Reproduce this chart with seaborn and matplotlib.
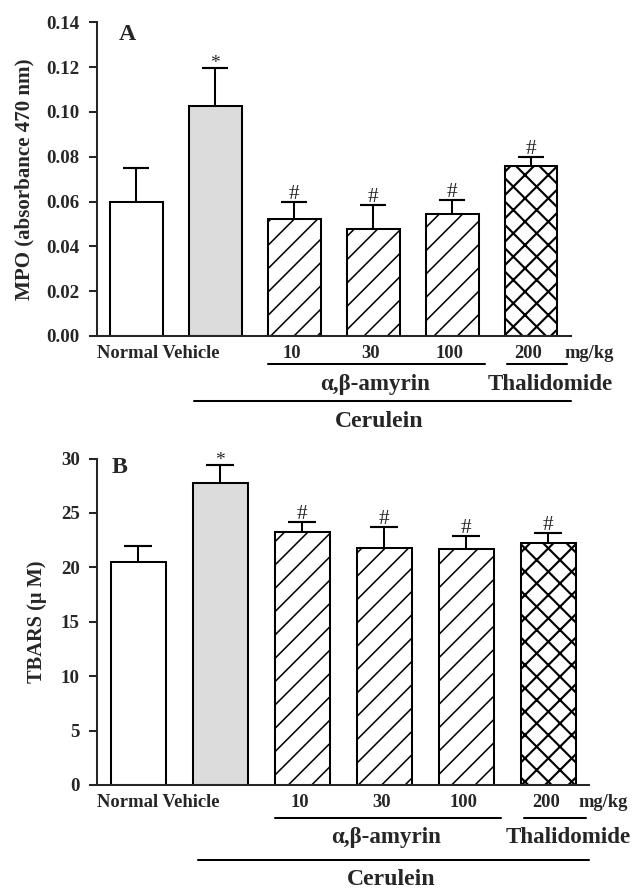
import numpy as np
import seaborn as sns
import matplotlib.pyplot as plt
import matplotlib.transforms as mtransforms

sns.set_style("ticks")
plt.rcParams["font.family"] = ["Liberation Serif", "DejaVu Serif"]
plt.rcParams["font.weight"] = "bold"
plt.rcParams["hatch.linewidth"] = 0.8

DPI = 140

## data
groups = ["Normal", "Vehicle", "10", "30", "100", "200"]
dose_labels = ["10", "30", "100", "200"]

mpo_mean = [0.0600, 0.1025, 0.0524, 0.0477, 0.0544, 0.0759]
mpo_sem = [0.0151, 0.0171, 0.0073, 0.0107, 0.0063, 0.0041]

tbars_mean = [20.53, 27.74, 23.25, 21.78, 21.69, 22.24]
tbars_sem = [1.47, 1.65, 0.92, 1.96, 1.19, 0.92]

sig_marks = ["", "*", "#", "#", "#", "#"]

mpo_ticks = [0.00, 0.02, 0.04, 0.06, 0.08, 0.10, 0.12, 0.14]
tbars_ticks = [0, 5, 10, 15, 20, 25, 30]

fills = ["white", "#dcdcdc", "white", "white", "white", "white"]
hatches = ["", "", "//", "//", "//", "xx"]

fig = plt.figure(figsize=(632 / DPI, 891 / DPI), dpi=DPI)
ax_a = fig.add_axes([0.1530, 0.6229, 0.7497, 0.3521])
ax_b = fig.add_axes([0.1540, 0.1190, 0.7783, 0.3664])


def below(ax, dy):
    # x in data units, y = axis bottom minus dy pixels
    base = mtransforms.blended_transform_factory(ax.transData, ax.transAxes)
    return mtransforms.offset_copy(base, fig=fig, x=0, y=-dy, units="dots")


def draw_panel(ax, mean, sem, ticks, fmt, ylabel, letter, letter_pos, label_x,
               capsize, lay):
    sns.barplot(x=groups, y=mean, hue=groups, palette=dict(zip(groups, fills)),
                legend=False, width=0.67, edgecolor="black", linewidth=1.05,
                errorbar=None, ax=ax)
    bars = sorted(ax.patches, key=lambda p: p.get_x())
    for p, h in zip(bars, hatches):
        p.set_hatch(h)
        p.set_edgecolor("black")
        if h == "xx" and hasattr(p, "set_hatch_linewidth"):
            p.set_hatch_linewidth(1.1)

    x = np.arange(len(groups))
    eb = ax.errorbar(x, mean, yerr=[np.zeros(len(mean)), sem], fmt="none",
                     ecolor="black", elinewidth=1.05, capsize=capsize,
                     capthick=1.1, zorder=3)
    eb.lines[1][0].set_visible(False)

    for xi, m, s, mk in zip(x, mean, sem, sig_marks):
        if mk:
            off = 3 if mk == "#" else 0
            ax.annotate(mk, xy=(xi, m + s), xytext=(0, off),
                        textcoords="offset pixels", ha="center", va="baseline",
                        fontsize=11 if mk == "#" else 10, fontweight="normal")

    ax.set_xlim(-0.5, 5.5)
    ax.set_ylim(ticks[0], ticks[-1])
    ax.set_yticks(ticks)
    ax.set_yticklabels([fmt.format(t) for t in ticks])
    ax.set_xticks([])
    ax.set_xlabel("")
    sns.despine(ax=ax)
    for side in ["left", "bottom"]:
        ax.spines[side].set_linewidth(1.05)
    ax.tick_params(axis="y", direction="out", length=4.3, width=1.05, pad=4.8,
                   labelsize=9.7)
    ax.set_ylabel(ylabel, fontsize=lay["ylab"], fontweight="bold", va="center")
    ax.yaxis.set_label_coords(label_x, 0.5)
    ax.text(letter_pos[0], letter_pos[1], letter, transform=ax.transAxes,
            fontsize=12.3, fontweight="bold", ha="left", va="baseline")

    # group annotations under the axis
    ax.text(-0.5, 0, "Normal Vehicle", transform=below(ax, lay["num"]),
            ha="left", va="baseline", fontsize=9.6, clip_on=False)
    for xi, lab in zip(x[2:], dose_labels):
        ax.text(xi - 0.03, 0, lab, transform=below(ax, lay["num"]),
                ha="center", va="baseline", fontsize=9.5, clip_on=False)
    ax.text(lay["mgkg"], 0, "mg/kg", transform=below(ax, lay["num"]),
            ha="center", va="baseline", fontsize=9.5, clip_on=False)
    ax.plot([1.67, 4.42], [0, 0], transform=below(ax, lay["line1"]),
            color="black", lw=1.05, clip_on=False)
    ax.plot([4.70, 5.46], [0, 0], transform=below(ax, lay["line1"]),
            color="black", lw=1.05, clip_on=False)
    ax.text(3.02, 0, "α,β-amyrin", transform=below(ax, lay["group"]),
            ha="center", va="baseline", fontsize=11.8, clip_on=False)
    ax.text(5.24, 0, "Thalidomide", transform=below(ax, lay["group"]),
            ha="center", va="baseline", fontsize=11.8, clip_on=False)
    ax.plot([0.73, 5.5], [0, 0], transform=below(ax, lay["line2"]),
            color="black", lw=1.05, clip_on=False)
    ax.text(3.08, 0, "Cerulein", transform=below(ax, lay["cer"]),
            ha="center", va="baseline", fontsize=12.2, clip_on=False)


draw_panel(ax_a, mpo_mean, mpo_sem, mpo_ticks, "{:.2f}",
           "MPO (absorbance 470 nm)", "A", (0.047, 0.9436), -0.1534, 6.7,
           dict(num=22.3, line1=28, group=54, line2=65, cer=90.7, mgkg=5.74,
                ylab=10.8))
draw_panel(ax_b, tbars_mean, tbars_sem, tbars_ticks, "{:d}",
           "TBARS (μ M)", "B", (0.029, 0.9547), -0.1226, 7.4,
           dict(num=22, line1=32.7, group=58, line2=75, cer=100.5, mgkg=5.67,
                ylab=10.5))

fig.savefig("out.png", dpi=DPI)
